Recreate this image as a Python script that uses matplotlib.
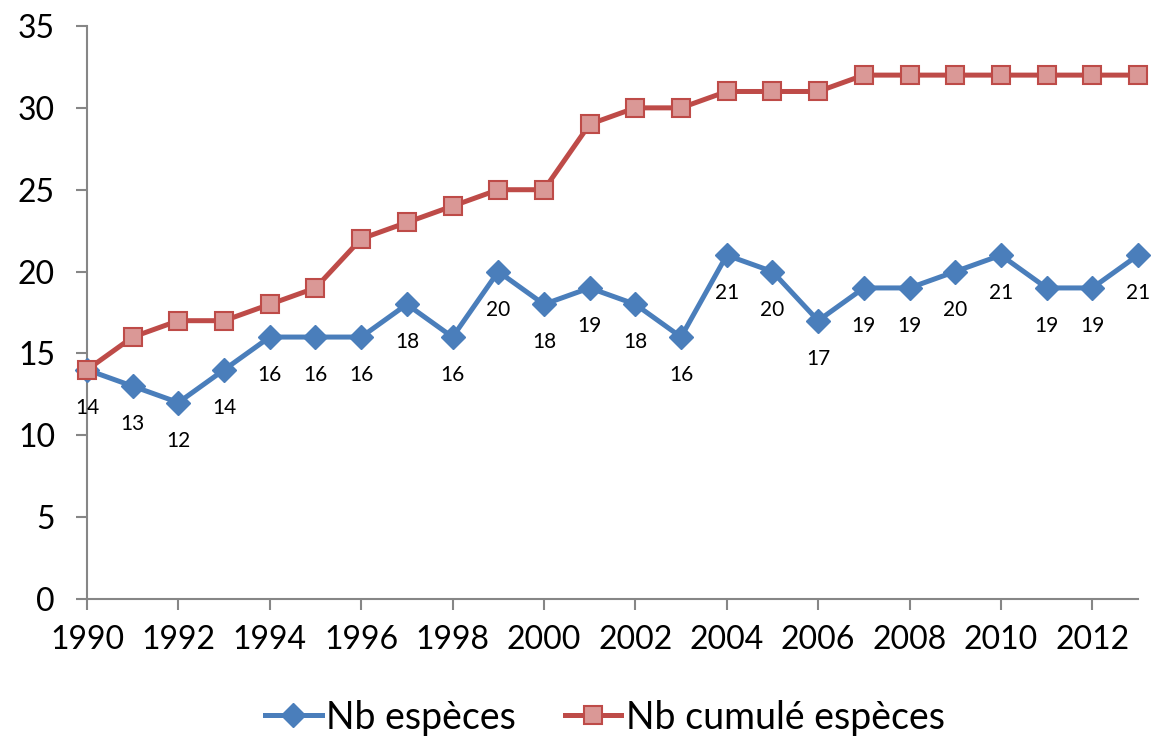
import matplotlib
matplotlib.use("Agg")
import matplotlib.pyplot as plt

# donnees
annees = list(range(1990, 2014))
nb_especes = [14, 13, 12, 14, 16, 16, 16, 18, 16, 20, 18, 19,
              18, 16, 21, 20, 17, 19, 19, 20, 21, 19, 19, 21]
nb_cumule = [14, 16, 17, 17, 18, 19, 22, 23, 24, 25, 25, 29,
             30, 30, 31, 31, 31, 32, 32, 32, 32, 32, 32, 32]
labels_series = ["Nb espèces", "Nb cumulé espèces"]
xticks = list(range(1990, 2013, 2))
yticks = list(range(0, 36, 5))

plt.rcParams['font.family'] = ['Lato', 'DejaVu Sans']

BLEU = '#4A7EBB'
ROUGE = '#BE4B48'
ROSE = '#DA9896'
GRIS = '#868686'

fig = plt.figure(figsize=(11.55, 7.39), dpi=100)
ax = fig.add_axes([87 / 1155, 1 - 599 / 739, (1138 - 87) / 1155, (599 - 26) / 739])

ax.plot(annees, nb_especes, color=BLEU, lw=3.6, marker='D', ms=12,
        mfc=BLEU, mec=BLEU, clip_on=False, zorder=3, label=labels_series[0])
ax.plot(annees, nb_cumule, color=ROUGE, lw=3.6, marker='s', ms=13,
        mfc=ROSE, mec=ROUGE, mew=1.5, clip_on=False, zorder=4, label=labels_series[1])

# etiquettes de donnees sous la serie bleue
for x, y in zip(annees, nb_especes):
    ax.annotate(str(y), (x, y), xytext=(0, -38), textcoords='offset pixels',
                ha='center', va='center', fontsize=15, color='black',
                annotation_clip=False)

ax.set_xlim(1990, 2013)
ax.set_ylim(0, 35)
ax.set_xticks(xticks)
ax.set_yticks(yticks)
ax.tick_params(axis='both', labelsize=23, length=8, width=1.5, color=GRIS,
               direction='out')
ax.tick_params(axis='y', pad=15)
ax.tick_params(axis='x', pad=11)

for s in ['top', 'right']:
    ax.spines[s].set_visible(False)
for s in ['left', 'bottom']:
    ax.spines[s].set_color(GRIS)
    ax.spines[s].set_linewidth(1.5)

fig.legend(loc='center', bbox_to_anchor=(0.524, 0.029), ncol=2, frameon=False,
           fontsize=27, handlelength=1.5, handletextpad=0.13, columnspacing=1.3)

fig.savefig('out.png', dpi=100)
